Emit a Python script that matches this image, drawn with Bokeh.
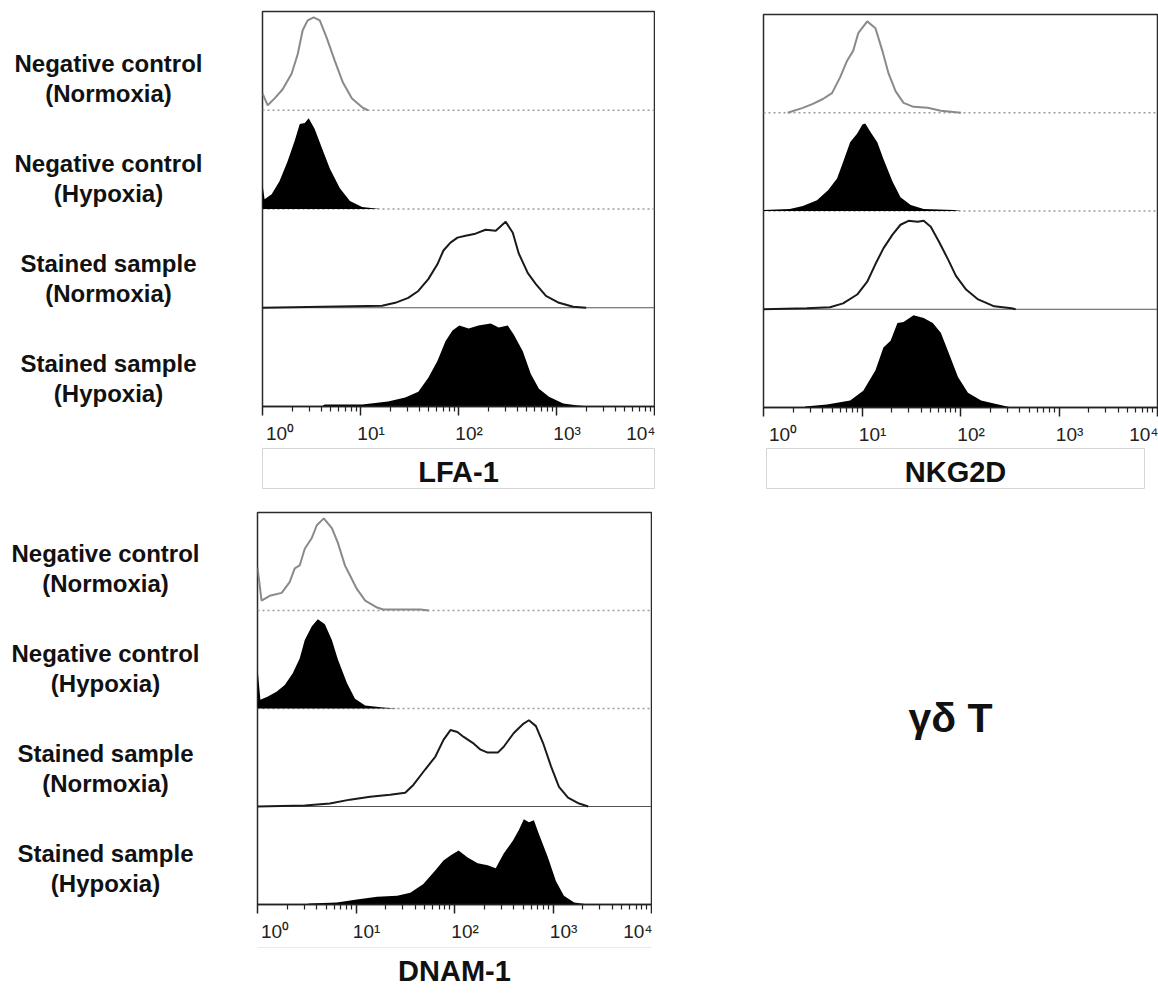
from bokeh.plotting import figure
from bokeh.layouts import row, column
from bokeh.models import Range1d, FixedTicker, Span, Spacer
from bokeh.core.properties import value
from bokeh.embed import file_html
from bokeh.resources import INLINE

# ---------------- data ----------------
markers = ["LFA-1", "NKG2D", "DNAM-1"]
sample_names = ["Negative control", "Negative control", "Stained sample", "Stained sample"]
sample_conditions = ["(Normoxia)", "(Hypoxia)", "(Normoxia)", "(Hypoxia)"]
cell_type = "γδ T"
tick_values = [1, 10, 100, 1000, 10000]
tick_labels = ["10⁰", "10¹", "10²", "10³", "10⁴"]

# LFA-1 histograms (fluorescence intensity, height as fraction of lane)
lfa1_neg_norm_x = [1.0, 1.13, 1.33, 1.60, 1.98, 2.29, 2.57, 2.89, 3.33, 3.84, 4.53, 5.47, 6.62, 8.18, 10.4, 11.9]
lfa1_neg_norm_y = [0.17, 0.05, 0.12, 0.21, 0.37, 0.57, 0.81, 0.91, 0.94, 0.91, 0.73, 0.50, 0.28, 0.12, 0.03, 0.0]
lfa1_neg_hyp_x = [1.0, 1.05, 1.24, 1.49, 1.80, 2.13, 2.40, 2.70, 2.96, 3.41, 4.03, 4.86, 6.16, 7.80, 10.4, 15.8]
lfa1_neg_hyp_y = [0.25, 0.10, 0.15, 0.28, 0.48, 0.69, 0.86, 0.87, 0.92, 0.81, 0.62, 0.41, 0.21, 0.08, 0.02, 0.0]
lfa1_st_norm_x = [1.0, 16.6, 22.6, 30.7, 38.9, 49.2, 60.9, 70.2, 82.8, 97.7, 118, 149, 189, 240, 303, 358,
                  412, 510, 616, 780, 1060, 1480, 2010]
lfa1_st_norm_y = [0.0, 0.02, 0.05, 0.10, 0.17, 0.29, 0.44, 0.58, 0.66, 0.71, 0.73, 0.75, 0.79, 0.78, 0.87, 0.76,
                  0.55, 0.35, 0.24, 0.12, 0.05, 0.01, 0.0]
lfa1_st_hyp_x = [4.0, 4.32, 10.4, 19.1, 28.6, 38.9, 49.2, 60.9, 73.6, 86.8, 102, 127, 160, 213, 257, 318, 366,
                 453, 547, 662, 838, 1170, 1660, 2260]
lfa1_st_hyp_y = [0.0, 0.02, 0.02, 0.05, 0.09, 0.15, 0.29, 0.46, 0.66, 0.77, 0.82, 0.79, 0.82, 0.84, 0.80, 0.82, 0.73,
                 0.56, 0.33, 0.18, 0.10, 0.03, 0.01, 0.0]

# NKG2D histograms
nkg2d_neg_norm_x = [1.76, 2.51, 3.17, 4.01, 4.96, 5.99, 7.06, 8.13, 9.16, 11.3, 13.7, 16.1, 18.6, 21.9, 26.4, 33.4,
                    46.5, 63.1, 101]
nkg2d_neg_norm_y = [0.0, 0.05, 0.09, 0.14, 0.20, 0.36, 0.53, 0.63, 0.81, 0.93, 0.86, 0.63, 0.40, 0.22, 0.10, 0.06,
                    0.05, 0.02, 0.0]
nkg2d_neg_hyp_x = [1.0, 1.85, 2.51, 3.49, 4.52, 5.58, 6.43, 7.58, 8.94, 10.1, 10.8, 12.1, 14.3, 16.5, 20.4, 24.6,
                   31.2, 42.3, 85.8, 101]
nkg2d_neg_hyp_y = [0.01, 0.02, 0.05, 0.11, 0.21, 0.33, 0.50, 0.70, 0.79, 0.88, 0.89, 0.81, 0.70, 0.53, 0.30, 0.14,
                   0.06, 0.02, 0.01, 0.0]
nkg2d_st_norm_x = [1.0, 2.75, 4.73, 6.43, 8.94, 11.3, 13.7, 16.5, 20.4, 24.6, 29.7, 36.7, 42.3, 49.9, 60.3, 74.5,
                   89.9, 114, 151, 220, 329, 363]
nkg2d_st_norm_y = [0.0, 0.01, 0.02, 0.06, 0.15, 0.28, 0.46, 0.62, 0.76, 0.86, 0.90, 0.89, 0.90, 0.84, 0.69, 0.51,
                   0.34, 0.20, 0.10, 0.03, 0.01, 0.0]
nkg2d_st_hyp_x = [2.63, 4.41, 7.58, 10.3, 13.7, 16.5, 19.5, 22.9, 26.4, 33.4, 42.3, 52.3, 63.1, 76.3, 94.3, 119,
                  162, 242, 329]
nkg2d_st_hyp_y = [0.01, 0.03, 0.07, 0.17, 0.38, 0.61, 0.68, 0.86, 0.87, 0.94, 0.91, 0.86, 0.76, 0.55, 0.31, 0.15,
                  0.07, 0.03, 0.0]

# DNAM-1 histograms
dnam1_neg_norm_x = [1.0, 1.10, 1.33, 1.76, 2.12, 2.39, 2.68, 3.02, 3.56, 4.00, 4.71, 5.69, 6.55, 7.72, 8.68, 10.2,
                    12.4, 16.4, 18.9, 45.0, 55.0]
dnam1_neg_norm_y = [0.44, 0.10, 0.15, 0.18, 0.29, 0.43, 0.46, 0.63, 0.74, 0.87, 0.94, 0.84, 0.69, 0.46, 0.36, 0.22,
                    0.10, 0.03, 0.01, 0.01, 0.0]
dnam1_neg_hyp_x = [1.0, 1.07, 1.26, 1.56, 1.89, 2.28, 2.68, 3.02, 3.56, 4.10, 4.83, 5.69, 6.55, 8.09, 9.77, 12.4,
                   18.9, 26.2]
dnam1_neg_hyp_y = [0.41, 0.09, 0.12, 0.17, 0.24, 0.36, 0.51, 0.70, 0.84, 0.91, 0.86, 0.70, 0.50, 0.26, 0.10, 0.03,
                   0.01, 0.0]
dnam1_st_norm_x = [1.0, 3.02, 5.43, 8.68, 13.9, 22.2, 31.6, 38.2, 50.6, 64.0, 77.3, 91.0, 107, 124, 153, 184, 217,
                   275, 316, 400, 494, 569, 671, 791, 955, 1150, 1420, 1840, 2280]
dnam1_st_norm_y = [0.0, 0.01, 0.03, 0.07, 0.10, 0.12, 0.14, 0.22, 0.38, 0.51, 0.68, 0.78, 0.76, 0.71, 0.65, 0.58,
                   0.55, 0.55, 0.61, 0.75, 0.84, 0.88, 0.82, 0.65, 0.41, 0.20, 0.09, 0.03, 0.0]
dnam1_st_hyp_x = [3.0, 3.40, 6.40, 10.2, 16.4, 26.2, 35.6, 48.3, 64.0, 77.3, 91.0, 110, 136, 172, 217, 262, 316,
                  391, 450, 506, 569, 640, 719, 889, 1070, 1290, 1640, 2280]
dnam1_st_hyp_y = [0.0, 0.01, 0.02, 0.05, 0.08, 0.09, 0.12, 0.21, 0.35, 0.45, 0.50, 0.55, 0.48, 0.42, 0.40, 0.37,
                  0.52, 0.65, 0.76, 0.87, 0.84, 0.86, 0.72, 0.48, 0.24, 0.09, 0.02, 0.0]

# ---------------- styling helpers ----------------
FONT_NAME = "Liberation Sans"
FONT = value(FONT_NAME)
NBSP = "\u00a0"
FILLED = [False, True, False, True]
LINE_COLORS = ["#8a8a8a", "black", "#1a1a1a", "black"]


def bare(p):
    p.xgrid.visible = False
    p.ygrid.visible = False
    p.background_fill_color = "white"
    p.border_fill_color = "white"
    return p


def make_panel(curves, width, height, b_left, b_right, b_top, b_bottom):
    p = figure(width=width, height=height, x_axis_type="log",
               x_range=Range1d(tick_values[0], tick_values[-1]), y_range=Range1d(0, len(curves)),
               y_axis_location=None, output_backend="svg", toolbar_location=None,
               min_border_left=b_left, min_border_right=b_right,
               min_border_top=b_top, min_border_bottom=b_bottom)
    bare(p)
    p.outline_line_color = "#2b2b2b"
    p.outline_line_width = 1.5
    ax = p.xaxis[0]
    minor = [m * d for d in tick_values[:-1] for m in range(2, 10)]
    ax.ticker = FixedTicker(ticks=tick_values, minor_ticks=minor)
    # labels start at their tick (FlowJo style); first/last are kept inside the plot edge
    overrides = {}
    for k, (v, lab) in enumerate(zip(tick_values, tick_labels)):
        if k == 0:
            overrides[v] = NBSP * 2 + lab
        elif k == len(tick_values) - 1:
            overrides[v] = lab
        else:
            overrides[v] = NBSP * 4 + lab
    ax.major_label_overrides = overrides
    ax.major_label_text_font = FONT_NAME
    ax.major_label_text_font_size = "19px"
    ax.major_label_text_color = "#222222"
    ax.major_label_standoff = 7
    ax.axis_line_color = "#222222"
    ax.axis_line_width = 1.5
    ax.major_tick_in = 0
    ax.major_tick_out = 9
    ax.minor_tick_in = 0
    ax.minor_tick_out = 5
    ax.major_tick_line_color = "#222222"
    ax.major_tick_line_width = 1.5
    ax.minor_tick_line_color = "#222222"
    ax.minor_tick_line_width = 1.2

    n = len(curves)
    x_ends = [tick_values[0], tick_values[-1]]
    for i, (xs, ys) in enumerate(curves):
        base = n - 1 - i
        top = [base + v for v in ys]
        if i < 2:
            p.line(x_ends, [base, base], line_color="#9a9a9a", line_dash="2 3", line_width=1.5)
        elif i < n - 1:
            p.line(x_ends, [base, base], line_color="#555555", line_width=1)
        if FILLED[i]:
            p.varea(x=xs, y1=[base] * len(xs), y2=top, fill_color=LINE_COLORS[i])
        else:
            p.line(xs, top, line_color=LINE_COLORS[i], line_width=2)
    return p


def make_labels(width, height, cx, first_cy, step):
    p = figure(width=width, height=height, x_range=Range1d(0, width), y_range=Range1d(height, 0),
               x_axis_location=None, y_axis_location=None, min_border=0,
               output_backend="svg", toolbar_location=None, outline_line_color=None)
    bare(p)
    ys = [first_cy + step * i for i in range(len(sample_names))]
    common = dict(text_font=FONT, text_font_style="bold", text_font_size="24px",
                  text_align="center", text_baseline="middle", text_color="#111111")
    p.text(x=[cx] * len(ys), y=ys, text=sample_names, y_offset=-15, **common)
    p.text(x=[cx] * len(ys), y=ys, text=sample_conditions, y_offset=15, **common)
    return p


def make_box(title, width, height, ty, full_outline=True):
    p = figure(width=width, height=height, x_range=Range1d(0, 1), y_range=Range1d(0, 1),
               x_axis_location=None, y_axis_location=None, min_border=1,
               output_backend="svg", toolbar_location=None)
    bare(p)
    if full_outline:
        p.outline_line_color = "#d6d6d6"
        p.outline_line_width = 1
    else:
        p.outline_line_color = None
        p.add_layout(Span(location=1, dimension="width", line_color="#d6d6d6", line_width=1))
    p.text(x=[0.5], y=[ty], text=[title], text_font=FONT, text_font_style="bold",
           text_font_size="29px", text_align="center", text_baseline="middle", text_color="#111111")
    return p


# ---------------- panels ----------------
lfa_curves = [(lfa1_neg_norm_x, lfa1_neg_norm_y), (lfa1_neg_hyp_x, lfa1_neg_hyp_y),
              (lfa1_st_norm_x, lfa1_st_norm_y), (lfa1_st_hyp_x, lfa1_st_hyp_y)]
nkg_curves = [(nkg2d_neg_norm_x, nkg2d_neg_norm_y), (nkg2d_neg_hyp_x, nkg2d_neg_hyp_y),
              (nkg2d_st_norm_x, nkg2d_st_norm_y), (nkg2d_st_hyp_x, nkg2d_st_hyp_y)]
dnam_curves = [(dnam1_neg_norm_x, dnam1_neg_norm_y), (dnam1_neg_hyp_x, dnam1_neg_hyp_y),
               (dnam1_st_norm_x, dnam1_st_norm_y), (dnam1_st_hyp_x, dnam1_st_hyp_y)]

p1 = make_panel(lfa_curves, 400, 447, 7, 1, 11, 41)
p2 = make_panel(nkg_curves, 400, 447, 5, 1, 14, 40)
p3 = make_panel(dnam_curves, 402, 457, 7, 1, 23, 42)

box1 = make_box(markers[0], 400, 42, 0.41)
box2 = make_box(markers[1], 380, 42, 0.41)
box3 = make_box(markers[2], 402, 49, 0.49, full_outline=False)

lab_top = make_labels(255, 489, 108, 77.5, 100)
lab_bot = make_labels(250, 506, 105, 79, 100)

gamma = figure(width=506, height=506, x_range=Range1d(0, 506), y_range=Range1d(506, 0),
               x_axis_location=None, y_axis_location=None, min_border=0,
               output_backend="svg", toolbar_location=None, outline_line_color=None)
bare(gamma)
gamma.text(x=[298], y=[228.5], text=[cell_type], text_font=FONT, text_font_style="bold",
           text_font_size="41px", text_align="center", text_baseline="middle", text_color="#111111")

top = row(lab_top, column(p1, box1), Spacer(width=103, height=1),
          column(p2, row(Spacer(width=7, height=1), box2)))
bottom = row(lab_bot, column(p3, box3), gamma)
layout = column(top, bottom)

open("out.html", "w").write(file_html(layout, INLINE))
